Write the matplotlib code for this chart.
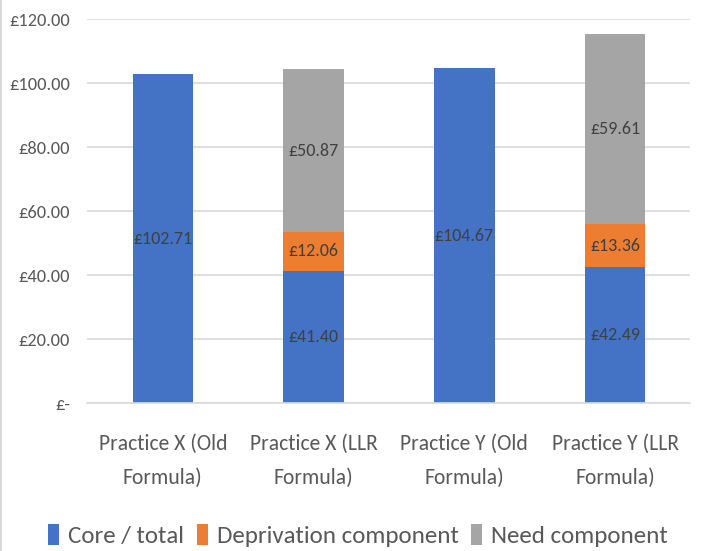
import matplotlib.pyplot as plt
from matplotlib import font_manager
import numpy as np

# Funding per patient by practice and formula
categories = ['Practice X (Old\nFormula)', 'Practice X (LLR\nFormula)',
              'Practice Y (Old\nFormula)', 'Practice Y (LLR\nFormula)']
core = [102.71, 41.40, 104.67, 42.49]
deprivation = [0, 12.06, 0, 13.36]
need = [0, 50.87, 0, 59.61]

y_ticks = [0, 20, 40, 60, 80, 100, 120]
y_labels = ['£-', '£20.00', '£40.00', '£60.00', '£80.00', '£100.00', '£120.00']

# Calibri-like font if present
names = {f.name for f in font_manager.fontManager.ttflist}
family = [f for f in ('Carlito', 'Open Sans Condensed', 'DejaVu Sans') if f in names] or ['DejaVu Sans']
plt.rcParams['font.family'] = family

blue = '#4472C4'
orange = '#ED7D31'
grey = '#A5A5A5'
text_col = '#595959'
label_col = '#404040'

fig = plt.figure(figsize=(7.02, 5.51), dpi=100)
ax = fig.add_axes([0.1246, 0.2686, 0.859, 0.6969])

x = np.arange(len(categories))
w = 0.4
core = np.array(core)
deprivation = np.array(deprivation)
need = np.array(need)

ax.bar(x, core, w, color=blue, label='Core / total', zorder=2)
ax.bar(x, deprivation, w, bottom=core, color=orange, label='Deprivation component', zorder=2)
ax.bar(x, need, w, bottom=core + deprivation, color=grey, label='Need component', zorder=2)

# value labels centred in each segment
for i in range(len(x)):
    base = 0
    for vals in (core, deprivation, need):
        v = vals[i]
        if v > 0:
            ax.text(x[i], base + v / 2, f'£{v:.2f}', ha='center', va='center',
                    fontsize=13, color=label_col, zorder=3)
        base += v

ax.set_xlim(-0.5, len(x) - 0.5)
ax.set_ylim(0, 120)
ax.set_yticks(y_ticks)
ax.set_yticklabels(y_labels)
ax.yaxis.grid(True, color='#D9D9D9', linewidth=1.2, zorder=0)
ax.set_axisbelow(True)
ax.tick_params(axis='y', length=0, pad=12.5, labelsize=13.2, labelcolor=text_col)
ax.tick_params(axis='x', length=0, pad=22, labelsize=15.6, labelcolor=text_col)
ax.set_xticks(x)
ax.set_xticklabels(categories, linespacing=1.9)
for s in ('top', 'right', 'left'):
    ax.spines[s].set_visible(False)
ax.spines['bottom'].set_color('#D9D9D9')
ax.spines['bottom'].set_linewidth(1.2)

leg = fig.legend(loc='center', bbox_to_anchor=(0.51, 0.028), ncol=3, frameon=False,
                 fontsize=18, handlelength=0.45, handleheight=0.9, handletextpad=0.35,
                 columnspacing=0.5, labelcolor=text_col)

# chart area border on the left
fig.add_artist(plt.Line2D([0.002, 0.002], [0, 1], color='#D9D9D9', linewidth=1.5))

fig.savefig('out.png', dpi=100)
